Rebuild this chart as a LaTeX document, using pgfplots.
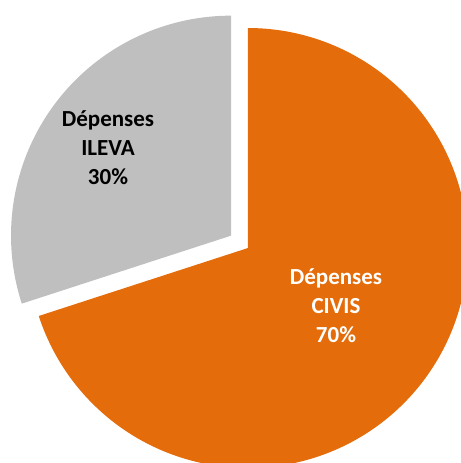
\documentclass[border=0pt]{standalone}
\usepackage{pgfplots}
\usepackage{pgfplotstable}
\usepackage{fontspec}
\setmainfont{Carlito}
\pgfplotsset{compat=1.18}
\definecolor{civis}{HTML}{E46C0A}
\definecolor{ileva}{HTML}{BFBFBF}
\pgfplotstableread{
label value
CIVIS 70
ILEVA 30
}\piedata
\begin{document}
\begin{tikzpicture}
\pgfplotstablegetelem{0}{value}\of\piedata \let\vcivis\pgfplotsretval
\pgfplotstablegetelem{1}{value}\of\piedata \let\vileva\pgfplotsretval
\pgfmathsetmacro{\aend}{90-3.6*\vcivis}
\pgfmathsetmacro{\bend}{90+3.6*\vileva}
\pgfmathsetmacro{\bmid}{90+1.8*\vileva}
\pgfmathsetmacro{\gx}{248+21*cos(\bmid)}
\pgfmathsetmacro{\gy}{215+21*sin(\bmid)}
\begin{axis}[width=230.5pt,height=231.5pt,scale only axis,hide axis,
  xmin=0,xmax=461,ymin=0,ymax=463,clip=true]
\addplot[draw=none, fill=civis, domain=\aend:90, samples=200]
  ({248+220*cos(x)},{215+220*sin(x)}) -- (axis cs:248,215) -- cycle;
\addplot[draw=none, fill=ileva, domain=90:\bend, samples=120]
  ({\gx+220*cos(x)},{\gy+220*sin(x)}) -- (axis cs:\gx,\gy) -- cycle;
\node[align=center, text=black, font=\fontsize{11.5}{14.5}\selectfont\bfseries]
  at (axis cs:108,315) {Dépenses\\ILEVA\\30\%};
\node[align=center, text=white, font=\fontsize{11.5}{14.5}\selectfont\bfseries]
  at (axis cs:336,157) {Dépenses\\CIVIS\\70\%};
\end{axis}
\pgfresetboundingbox
\useasboundingbox (current axis.south west) rectangle (current axis.north east);
\end{tikzpicture}
\end{document}
